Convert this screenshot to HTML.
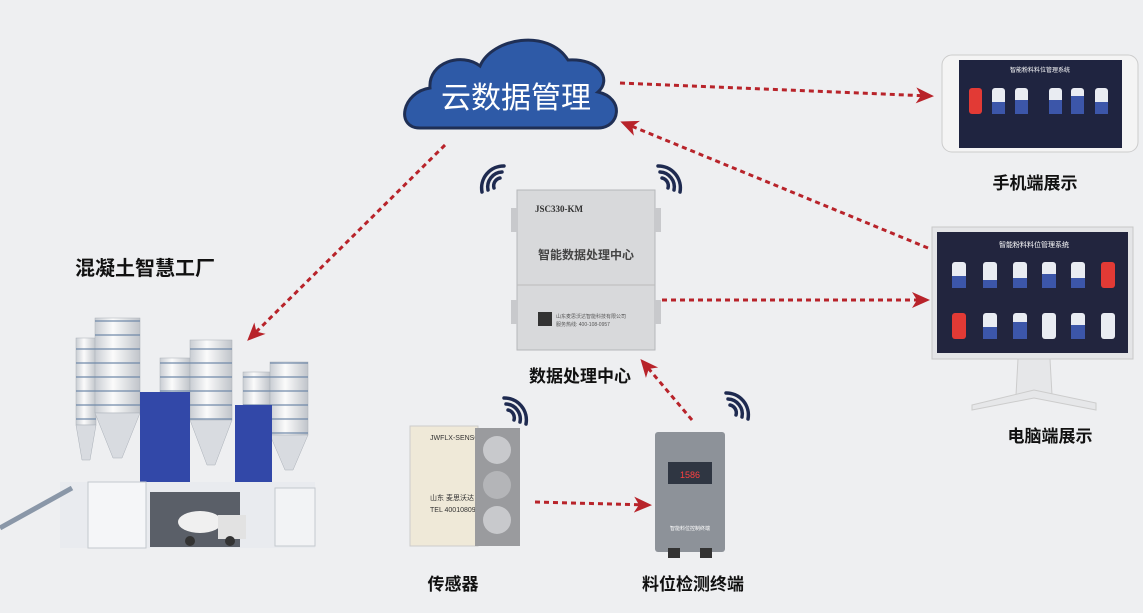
<!DOCTYPE html>
<html><head><meta charset="utf-8"><style>
html,body{margin:0;padding:0;}
body{width:1143px;height:608px;background:#eeeff1;overflow:hidden;font-family:"Liberation Sans","Noto Sans CJK SC",sans-serif;}
</style></head><body>
<svg width="1143" height="608" viewBox="0 0 1143 608" xmlns="http://www.w3.org/2000/svg">
<defs>
<marker id="ah2" markerWidth="20" markerHeight="20" refX="14" refY="10" orient="auto" markerUnits="userSpaceOnUse" viewBox="0 0 20 20">
<path d="M0,2 L18,10 L0,18 L5,10 Z" fill="#b8232a"/></marker>
<linearGradient id="silo" x1="0" x2="1"><stop offset="0" stop-color="#c9cdd3"/><stop offset="0.4" stop-color="#fbfbfb"/><stop offset="1" stop-color="#c0c4ca"/></linearGradient>
<pattern id="rings" width="10" height="14" patternUnits="userSpaceOnUse"><rect width="10" height="14" fill="none"/><rect y="12" width="10" height="2" fill="#6d87a8"/></pattern>
</defs>
<!-- cloud -->
<path d="M420,128 C395,128 402,92 430,88 C428,62 462,52 480,66 C492,38 548,28 568,60 C600,58 612,80 598,92 C625,98 620,128 598,128 Z" fill="#2e5aa7" stroke="#1f2f55" stroke-width="3"/>
<text x="516" y="108" font-size="30" fill="#fff" text-anchor="middle">云数据管理</text>
<!-- arrows -->
<g stroke="#b8232a" stroke-width="3" stroke-dasharray="5,4" fill="none">
<line x1="620" y1="83" x2="930" y2="96" marker-end="url(#ah2)"/>
<line x1="928" y1="248" x2="624" y2="123" marker-end="url(#ah2)"/>
<line x1="445" y1="145" x2="250" y2="338" marker-end="url(#ah2)"/>
<line x1="662" y1="300" x2="926" y2="300" marker-end="url(#ah2)"/>
<line x1="692" y1="420" x2="643" y2="362" marker-end="url(#ah2)"/>
<line x1="535" y1="502" x2="648" y2="505" marker-end="url(#ah2)"/>
</g>
<!-- wifi icons -->
<g fill="none" stroke="#1e2a50" stroke-width="3.5" stroke-linecap="round">
<path d="M500,178 a8,8 0 0 0 -6,10"/><path d="M502,172 a15,15 0 0 0 -14,18"/><path d="M504,166 a22,22 0 0 0 -22,26"/>
<path d="M662,178 a8,8 0 0 1 6,10"/><path d="M660,172 a15,15 0 0 1 14,18"/><path d="M658,166 a22,22 0 0 1 22,26"/>
<path d="M508,410 a8,8 0 0 1 6,10"/><path d="M506,404 a15,15 0 0 1 14,18"/><path d="M504,398 a22,22 0 0 1 22,26"/>
<path d="M730,405 a8,8 0 0 1 6,10"/><path d="M728,399 a15,15 0 0 1 14,18"/><path d="M726,393 a22,22 0 0 1 22,26"/>
</g>
<!-- data box -->
<rect x="517" y="190" width="138" height="160" fill="#d8d9db" stroke="#b5b7ba"/>
<rect x="511" y="208" width="7" height="24" fill="#c8c9cc"/><rect x="511" y="300" width="7" height="24" fill="#c8c9cc"/>
<rect x="654" y="208" width="7" height="24" fill="#c8c9cc"/><rect x="654" y="300" width="7" height="24" fill="#c8c9cc"/>
<line x1="517" y1="285" x2="655" y2="285" stroke="#bbb"/>
<text x="535" y="212" font-size="9" font-weight="bold" fill="#333" font-family="Liberation Serif,serif">JSC330-KM</text>
<text x="586" y="259" font-size="12" font-weight="bold" fill="#444" text-anchor="middle">智能数据处理中心</text>
<rect x="538" y="312" width="14" height="14" fill="#333"/>
<text x="556" y="318" font-size="5" fill="#555">山东麦思沃达智能科技有限公司</text>
<text x="556" y="326" font-size="5" fill="#555">服务热线: 400-108-0957</text>
<text x="580" y="382" font-size="17" font-weight="bold" fill="#111" text-anchor="middle">数据处理中心</text>
<!-- phone -->
<rect x="942" y="55" width="196" height="97" rx="10" fill="#f4f4f4" stroke="#ccc"/>
<rect x="959" y="60" width="163" height="88" fill="#1f2440"/>
<text x="1040" y="72" font-size="6" fill="#fff" text-anchor="middle">智能粉料料位管理系统</text>
<g>
<rect x="969" y="88" width="13" height="26" rx="3" fill="#e23a35"/>
<rect x="992" y="88" width="13" height="26" rx="3" fill="#e9ecf2"/><rect x="992" y="102" width="13" height="12" fill="#3c56a9"/>
<rect x="1015" y="88" width="13" height="26" rx="3" fill="#e9ecf2"/><rect x="1015" y="100" width="13" height="14" fill="#3c56a9"/>
<rect x="1049" y="88" width="13" height="26" rx="3" fill="#e9ecf2"/><rect x="1049" y="100" width="13" height="14" fill="#3c56a9"/>
<rect x="1071" y="88" width="13" height="26" rx="3" fill="#e9ecf2"/><rect x="1071" y="96" width="13" height="18" fill="#3c56a9"/>
<rect x="1095" y="88" width="13" height="26" rx="3" fill="#e9ecf2"/><rect x="1095" y="102" width="13" height="12" fill="#3c56a9"/>
</g>
<text x="1035" y="189" font-size="17" font-weight="bold" fill="#111" text-anchor="middle">手机端展示</text>
<!-- monitor -->
<rect x="932" y="227" width="201" height="132" fill="#e4e5e7" stroke="#c8c8c8"/>
<rect x="937" y="232" width="191" height="121" fill="#22253e"/>
<text x="1034" y="247" font-size="7" fill="#fff" text-anchor="middle">智能粉料料位管理系统</text>
<g>
<rect x="952" y="262" width="14" height="26" rx="3" fill="#e9ecf2"/><rect x="952" y="276" width="14" height="12" fill="#3c56a9"/>
<rect x="983" y="262" width="14" height="26" rx="3" fill="#e9ecf2"/><rect x="983" y="280" width="14" height="8" fill="#3c56a9"/>
<rect x="1013" y="262" width="14" height="26" rx="3" fill="#e9ecf2"/><rect x="1013" y="278" width="14" height="10" fill="#3c56a9"/>
<rect x="1042" y="262" width="14" height="26" rx="3" fill="#e9ecf2"/><rect x="1042" y="274" width="14" height="14" fill="#3c56a9"/>
<rect x="1071" y="262" width="14" height="26" rx="3" fill="#e9ecf2"/><rect x="1071" y="278" width="14" height="10" fill="#3c56a9"/>
<rect x="1101" y="262" width="14" height="26" rx="3" fill="#e23a35"/>
<rect x="952" y="313" width="14" height="26" rx="3" fill="#e23a35"/>
<rect x="983" y="313" width="14" height="26" rx="3" fill="#e9ecf2"/><rect x="983" y="327" width="14" height="12" fill="#3c56a9"/>
<rect x="1013" y="313" width="14" height="26" rx="3" fill="#e9ecf2"/><rect x="1013" y="322" width="14" height="17" fill="#3c56a9"/>
<rect x="1042" y="313" width="14" height="26" rx="3" fill="#e9ecf2"/>
<rect x="1071" y="313" width="14" height="26" rx="3" fill="#e9ecf2"/><rect x="1071" y="325" width="14" height="14" fill="#3c56a9"/>
<rect x="1101" y="313" width="14" height="26" rx="3" fill="#e9ecf2"/>
</g>
<path d="M1018,359 L1050,359 L1052,395 L1016,395 Z" fill="#e6e7e9" stroke="#ccc"/>
<path d="M972,405 L1034,390 L1096,403 L1096,410 L1034,398 L972,410 Z" fill="#e6e7e9" stroke="#ccc"/>
<text x="1050" y="442" font-size="17" font-weight="bold" fill="#111" text-anchor="middle">电脑端展示</text>
<!-- factory -->
<text x="145" y="275" font-size="20" font-weight="bold" fill="#111" text-anchor="middle">混凝土智慧工厂</text>
<g>
<!-- silos: cylinder + cone -->
<g stroke="#aab0b8" stroke-width="0.5">
<rect x="76" y="338" width="20" height="87" fill="url(#silo)"/><path d="M76,425 L96,425 L90,460 L82,460 Z" fill="#d8dbe0"/>
<rect x="95" y="318" width="45" height="95" fill="url(#silo)"/><path d="M95,413 L140,413 L122,458 L113,458 Z" fill="#d8dbe0"/>
<rect x="160" y="358" width="30" height="40" fill="url(#silo)"/>
<rect x="190" y="340" width="42" height="80" fill="url(#silo)"/><path d="M190,420 L232,420 L215,465 L207,465 Z" fill="#d8dbe0"/>
<rect x="243" y="372" width="27" height="38" fill="url(#silo)"/>
<rect x="270" y="362" width="38" height="73" fill="url(#silo)"/><path d="M270,435 L308,435 L293,470 L285,470 Z" fill="#d8dbe0"/>
</g>
<g fill="url(#rings)" opacity="0.6">
<rect x="76" y="338" width="20" height="87"/><rect x="95" y="318" width="45" height="95"/><rect x="160" y="358" width="30" height="40"/>
<rect x="190" y="340" width="42" height="80"/><rect x="243" y="372" width="27" height="38"/><rect x="270" y="362" width="38" height="73"/>
</g>
<rect x="140" y="392" width="50" height="95" fill="#3248a8"/>
<rect x="235" y="405" width="37" height="85" fill="#3248a8"/>
<rect x="60" y="482" width="255" height="66" fill="#e9ebef"/>
<rect x="88" y="482" width="58" height="66" fill="#f5f6f8" stroke="#c4c8ce"/>
<rect x="275" y="488" width="40" height="58" fill="#f2f3f5" stroke="#c4c8ce"/>
<rect x="150" y="492" width="90" height="55" fill="#5a5f68"/>
<path d="M0,528 L72,488" stroke="#8a97a8" stroke-width="5"/>
<ellipse cx="200" cy="522" rx="22" ry="11" fill="#f0f0f0"/>
<rect x="218" y="515" width="28" height="24" fill="#e2e2e2"/>
<circle cx="190" cy="541" r="5" fill="#333"/><circle cx="230" cy="541" r="5" fill="#333"/>
</g>
<!-- sensor -->
<rect x="410" y="426" width="68" height="120" fill="#efe9d8" stroke="#ccc"/>
<text x="430" y="440" font-size="7" fill="#333">JWFLX-SENSOR</text>
<text x="430" y="500" font-size="7" fill="#333">山东 麦思沃达</text>
<text x="430" y="512" font-size="7" fill="#333">TEL 4001080957</text>
<rect x="475" y="428" width="45" height="118" fill="#9a9b9e"/>
<circle cx="497" cy="450" r="14" fill="#c8c9cc"/><circle cx="497" cy="485" r="14" fill="#b4b5b8"/><circle cx="497" cy="520" r="14" fill="#c8c9cc"/>
<text x="453" y="590" font-size="17" font-weight="bold" fill="#111" text-anchor="middle">传感器</text>
<!-- terminal -->
<rect x="655" y="432" width="70" height="120" rx="3" fill="#8d9299"/>
<rect x="668" y="462" width="44" height="22" fill="#2f3642"/>
<text x="690" y="478" font-size="9" fill="#ff4040" text-anchor="middle">1586</text>
<text x="690" y="530" font-size="5" fill="#fff" text-anchor="middle">智能料位控制终端</text>
<rect x="668" y="548" width="12" height="10" fill="#333"/><rect x="700" y="548" width="12" height="10" fill="#333"/>
<text x="693" y="590" font-size="17" font-weight="bold" fill="#111" text-anchor="middle">料位检测终端</text>
</svg>
</body></html>
